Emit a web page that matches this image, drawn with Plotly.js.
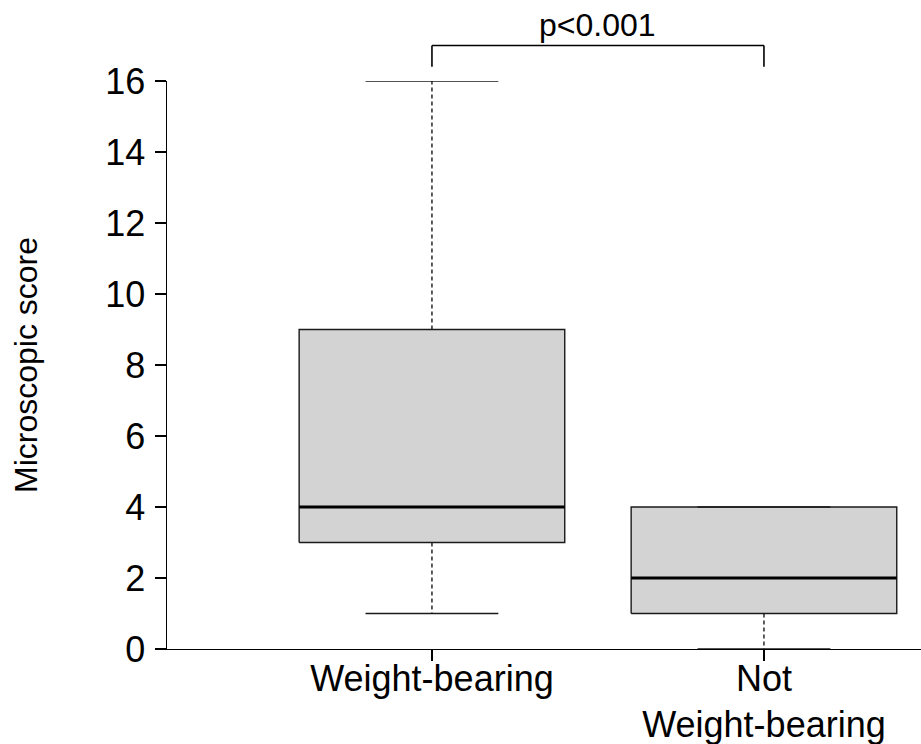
<!DOCTYPE html>
<html>
<head>
<meta charset="utf-8">
<script src="https://cdn.plot.ly/plotly-3.0.1.min.js"></script>
<style>
  html, body { margin: 0; padding: 0; background: #ffffff; }
  #chart { width: 921px; height: 744px; }
</style>
</head>
<body>
<div id="chart"></div>
<script>
// ---- data ----
const categories = ["Weight-bearing", "Not<br>Weight-bearing"];
const lowerWhisker = [1, 0];
const q1Values = [3, 1];
const medianValues = [4, 2];
const q3Values = [9, 4];
const upperWhisker = [16, 4];
const yTicks = [0, 2, 4, 6, 8, 10, 12, 14, 16];
const pLabel = "p<0.001";
const yTitle = "Microscopic score";

// ---- styling ----
const FONT = "'Liberation Sans', Arial, sans-serif";
const BOX_HALF = 0.4;
const STAPLE_HALF = 0.2;
const EDGE = "#1a1a1a";
const FILL = "#d3d3d3";

const traces = [];
categories.forEach((c, i) => {
  // box body
  traces.push({
    type: "scatter", mode: "lines", hoverinfo: "skip", showlegend: false,
    x: [i - BOX_HALF, i + BOX_HALF, i + BOX_HALF, i - BOX_HALF, i - BOX_HALF],
    y: [q1Values[i], q1Values[i], q3Values[i], q3Values[i], q1Values[i]],
    fill: "toself", fillcolor: FILL,
    line: { color: EDGE, width: 1.4 }
  });
  // median
  traces.push({
    type: "scatter", mode: "lines", hoverinfo: "skip", showlegend: false,
    x: [i - BOX_HALF, i + BOX_HALF],
    y: [medianValues[i], medianValues[i]],
    line: { color: "#000000", width: 3 }
  });
  // whiskers (dashed)
  traces.push({
    type: "scatter", mode: "lines", hoverinfo: "skip", showlegend: false,
    x: [i, i, null, i, i],
    y: [q3Values[i], upperWhisker[i], null, q1Values[i], lowerWhisker[i]],
    line: { color: EDGE, width: 1.4, dash: "4px,3px" }
  });
  // staples
  traces.push({
    type: "scatter", mode: "lines", hoverinfo: "skip", showlegend: false,
    x: [i - STAPLE_HALF, i + STAPLE_HALF, null, i - STAPLE_HALF, i + STAPLE_HALF],
    y: [upperWhisker[i], upperWhisker[i], null, lowerWhisker[i], lowerWhisker[i]],
    line: { color: EDGE, width: 1.4 }
  });
});

const yMax = 16;
const bracketTop = 17.0;
const bracketTip = 16.4;

const layout = {
  width: 921, height: 744,
  margin: { l: 167, r: 0, t: 81, b: 95 },
  paper_bgcolor: "#ffffff", plot_bgcolor: "#ffffff",
  font: { family: FONT, size: 32, color: "#000000" },
  showlegend: false,
  xaxis: {
    range: [-0.798, 1.473],
    tickvals: categories.map((_, i) => i),
    ticktext: categories,
    showgrid: false, zeroline: false,
    showline: true, linecolor: "#000000", linewidth: 1.4,
    ticks: "outside", ticklen: 11, tickwidth: 1.4, tickcolor: "#000000",
    ticklabelstandoff: -14,
    tickfont: { family: FONT, size: 36, color: "#000000" },
    fixedrange: true
  },
  yaxis: {
    range: [0, yMax],
    tickvals: yTicks,
    ticktext: yTicks.map(String),
    showgrid: false, zeroline: false,
    showline: true, linecolor: "#000000", linewidth: 1.4,
    ticks: "outside", ticklen: 11, tickwidth: 1.4, tickcolor: "#000000",
    ticklabelstandoff: 2,
    tickfont: { family: FONT, size: 36, color: "#000000" },
    title: { text: yTitle, font: { family: FONT, size: 32, color: "#000000" }, standoff: 58 },
    fixedrange: true
  },
  shapes: [
    { type: "line", xref: "x", yref: "paper", x0: 0, x1: 1, y0: bracketTop / yMax, y1: bracketTop / yMax,
      line: { color: "#000000", width: 1.6 } },
    { type: "line", xref: "x", yref: "paper", x0: 0, x1: 0, y0: bracketTop / yMax, y1: bracketTip / yMax,
      line: { color: "#000000", width: 1.6 } },
    { type: "line", xref: "x", yref: "paper", x0: 1, x1: 1, y0: bracketTop / yMax, y1: bracketTip / yMax,
      line: { color: "#000000", width: 1.6 } }
  ],
  annotations: [
    { xref: "x", yref: "paper", x: 0.5, y: bracketTop / yMax, yanchor: "bottom", yshift: 0,
      text: pLabel, showarrow: false, font: { family: FONT, size: 32, color: "#000000" } }
  ]
};

Plotly.newPlot("chart", traces, layout, { staticPlot: true, displayModeBar: false });
</script>
</body>
</html>
